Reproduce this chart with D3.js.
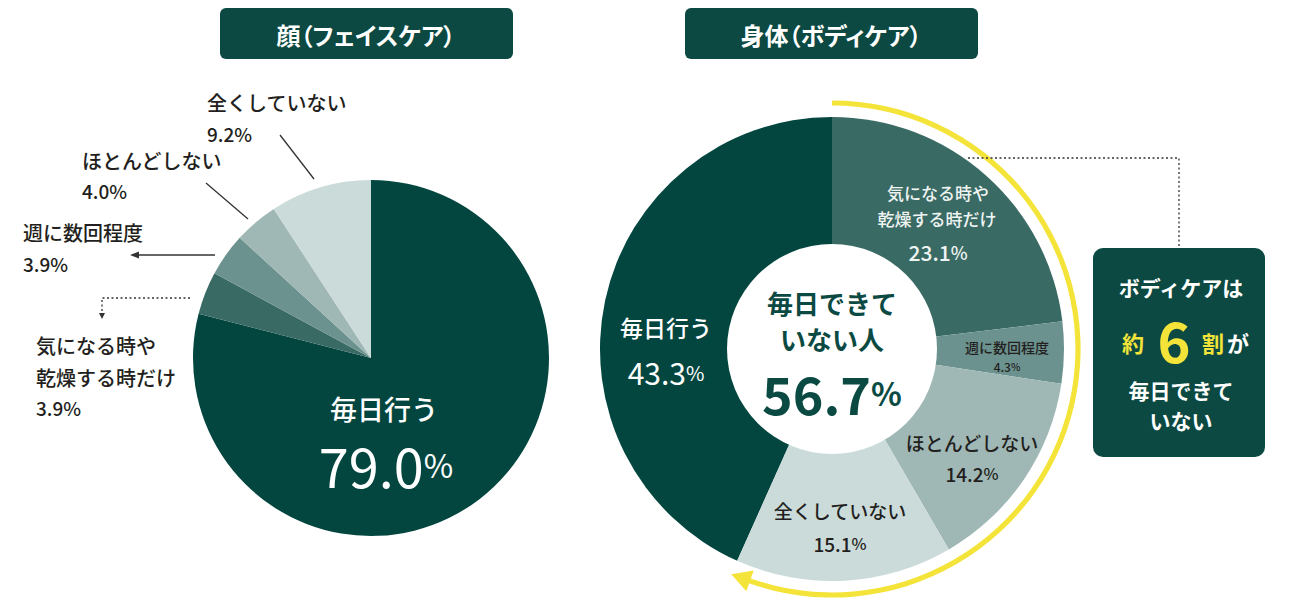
<!DOCTYPE html>
<html><head><meta charset="utf-8">
<script src="https://cdn.jsdelivr.net/npm/d3@7"></script>
<style>
body{margin:0;background:#fff;}
svg{display:block;font-family:"Noto Sans CJK JP","Noto Sans",sans-serif;}
.palt{font-feature-settings:"palt";}
</style></head><body>
<svg id="c" width="1295" height="613"></svg>
<script>
// ---- data ----
const categories = ["毎日行う","気になる時や乾燥する時だけ","週に数回程度","ほとんどしない","全くしていない"];
const faceValues = [79.0, 3.9, 3.9, 4.0, 9.2];
const bodyValues = [43.3, 23.1, 4.3, 14.2, 15.1];
const panelTitles = ["顔（フェイスケア）", "身体（ボディケア）"];
const bodyNotDaily = 56.7;
const centerLines = ["毎日できて", "いない人"];
const calloutLines = ["ボディケアは", "毎日できて", "いない"];
const calloutMid = ["約", "6", "割", "が"];

// ---- style ----
const colors = ["#03463f", "#3a6a64", "#6b928e", "#9fb8b5", "#cbdbda"];
const headerFill = "#0b4942";
const yellow = "#f4e43a";
const ink = "#231f20";

const svg = d3.select("#c");
const fmt = v => v.toFixed(1);

function txt(x, y, str, size, fill, weight, anchor) {
  return svg.append("text").attr("x", x).attr("y", y)
    .attr("font-size", size).attr("fill", fill)
    .attr("font-weight", weight || 500)
    .attr("text-anchor", anchor || "middle")
    .attr("dominant-baseline", "central")
    .text(str);
}
function pct(x, y, v, size, pSize, fill, weight, anchor) {
  const t = svg.append("text").attr("x", x).attr("y", y)
    .attr("fill", fill).attr("font-weight", weight || 500)
    .attr("text-anchor", anchor || "middle")
    .attr("dominant-baseline", "central");
  t.append("tspan").attr("font-size", size).text(fmt(v));
  t.append("tspan").attr("font-size", pSize).text("%");
  return t;
}

// ---- headers ----
const headers = [{x: 220, w: 293, cx: 366}, {x: 685, w: 293, cx: 831}];
headers.forEach((h, i) => {
  svg.append("rect").attr("x", h.x).attr("y", 8).attr("width", h.w).attr("height", 51)
    .attr("rx", 6).attr("fill", headerFill);
  txt(h.cx, 34, panelTitles[i], 24, "#fff", 700).attr("class", "palt");
});

// ---- face pie ----
const fc = {x: 371, y: 358, r: 178};
const facePie = d3.pie().sort(null).value(d => d)(faceValues);
const faceArc = d3.arc().innerRadius(0).outerRadius(fc.r);
const gF = svg.append("g").attr("transform", `translate(${fc.x},${fc.y})`);
gF.selectAll("path").data(facePie).join("path")
  .attr("d", faceArc).attr("fill", (d, i) => colors[i]);

// face labels
txt(384, 408, categories[0], 27, "#fff", 500);
pct(386, 464, faceValues[0], 54, 32, "#fff", 400);

txt(207, 102, categories[4], 20, ink, 500, "start");
pct(207, 133, faceValues[4], 19, 19, ink, 500, "start");
txt(82, 160, categories[3], 20, ink, 500, "start");
pct(82, 190, faceValues[3], 19, 19, ink, 500, "start");
txt(23, 232, categories[2], 20, ink, 500, "start");
pct(23, 263, faceValues[2], 19, 19, ink, 500, "start");
txt(36, 345, "気になる時や", 20, ink, 500, "start");
txt(36, 377, "乾燥する時だけ", 20, ink, 500, "start");
pct(36, 407, faceValues[1], 19, 19, ink, 500, "start");

// leader lines
const lineCol = "#333";
svg.append("line").attr("x1", 280).attr("y1", 135).attr("x2", 314).attr("y2", 179)
  .attr("stroke", lineCol).attr("stroke-width", 1.3);
svg.append("line").attr("x1", 206).attr("y1", 183).attr("x2", 248).attr("y2", 219)
  .attr("stroke", lineCol).attr("stroke-width", 1.3);
svg.append("line").attr("x1", 215).attr("y1", 255).attr("x2", 136).attr("y2", 255)
  .attr("stroke", lineCol).attr("stroke-width", 1.3);
svg.append("path").attr("d", "M130,255 L139,251.5 L139,258.5 Z").attr("fill", lineCol);
svg.append("path").attr("d", "M190,298 H102 V314")
  .attr("fill", "none").attr("stroke", lineCol).attr("stroke-width", 1.3)
  .attr("stroke-dasharray", "2,2.5");
svg.append("path").attr("d", "M102,319 L99,313 L105,313 Z").attr("fill", lineCol);

// ---- body pie ----
const bc = {x: 832, y: 349, r: 232, ir: 105};
const startA = -2 * Math.PI * bodyValues[0] / 100;
const bodyPie = d3.pie().sort(null).value(d => d)
  .startAngle(startA).endAngle(startA + 2 * Math.PI)(bodyValues);
const bodyArc = d3.arc().innerRadius(0).outerRadius(bc.r);
const gB = svg.append("g").attr("transform", `translate(${bc.x},${bc.y})`);
gB.selectAll("path").data(bodyPie).join("path")
  .attr("d", bodyArc).attr("fill", (d, i) => colors[i]);
gB.append("circle").attr("r", bc.ir).attr("fill", "#fff");

// yellow arc with arrow
const yr = 246;
const tipA = 2 * Math.PI * bodyNotDaily / 100;
const headLen = 20;
const backA = tipA - headLen / yr;
const yArc = d3.arc().innerRadius(yr - 2.6).outerRadius(yr + 2.6)
  .startAngle(0).endAngle(backA + 0.01);
gB.append("path").attr("d", yArc()).attr("fill", yellow);
{
  const px = yr * Math.sin(backA), py = -yr * Math.cos(backA);
  const tx = Math.cos(backA), ty = Math.sin(backA);    // tangent (clockwise)
  const nx = Math.sin(backA), ny = -Math.cos(backA);   // radial
  const tip = [px + tx * headLen, py + ty * headLen];
  const c1 = [px + nx * 11, py + ny * 11];
  const c2 = [px - nx * 11, py - ny * 11];
  gB.append("path").attr("d", `M${tip}L${c1}L${c2}Z`).attr("fill", yellow);
}

// body labels
txt(938, 192, "気になる時や", 17, "#eef4f2", 500);
txt(937, 218, "乾燥する時だけ", 17, "#eef4f2", 500);
pct(938, 252, bodyValues[1], 21, 18, "#eef4f2", 500);
txt(1007, 347, categories[2], 14, ink, 500);
pct(1007, 366, bodyValues[2], 12, 10, ink, 500);
txt(972, 442, categories[3], 19, ink, 500);
pct(972, 473, bodyValues[3], 19, 16, ink, 500);
txt(840, 510, categories[4], 19, ink, 500);
pct(840, 543, bodyValues[4], 19, 16, ink, 500);
txt(666, 327, categories[0], 23, "#fff", 500);
pct(666, 372, bodyValues[0], 30, 20, "#fff", 400);

txt(832, 302, centerLines[0], 26, "#0b4a43", 700);
txt(832, 338, centerLines[1], 26, "#0b4a43", 700);
pct(832, 392, bodyNotDaily, 52, 32, "#0b4a43", 700);

// dotted connector
svg.append("path").attr("d", "M968,158 H1179 V248")
  .attr("fill", "none").attr("stroke", lineCol).attr("stroke-width", 1.3)
  .attr("stroke-dasharray", "2,2.5");

// callout box
svg.append("rect").attr("x", 1093).attr("y", 248).attr("width", 172).attr("height", 209)
  .attr("rx", 10).attr("fill", headerFill);
txt(1181, 287, calloutLines[0], 21, "#fff", 700);
txt(1133, 342, calloutMid[0], 22, yellow, 700);
txt(1174, 338, calloutMid[1], 56, yellow, 700);
txt(1213, 342, calloutMid[2], 22, yellow, 700);
txt(1238, 342, calloutMid[3], 22, "#fff", 700);
txt(1181, 390, calloutLines[1], 21, "#fff", 700);
txt(1181, 420, calloutLines[2], 21, "#fff", 700);
</script>
</body></html>
